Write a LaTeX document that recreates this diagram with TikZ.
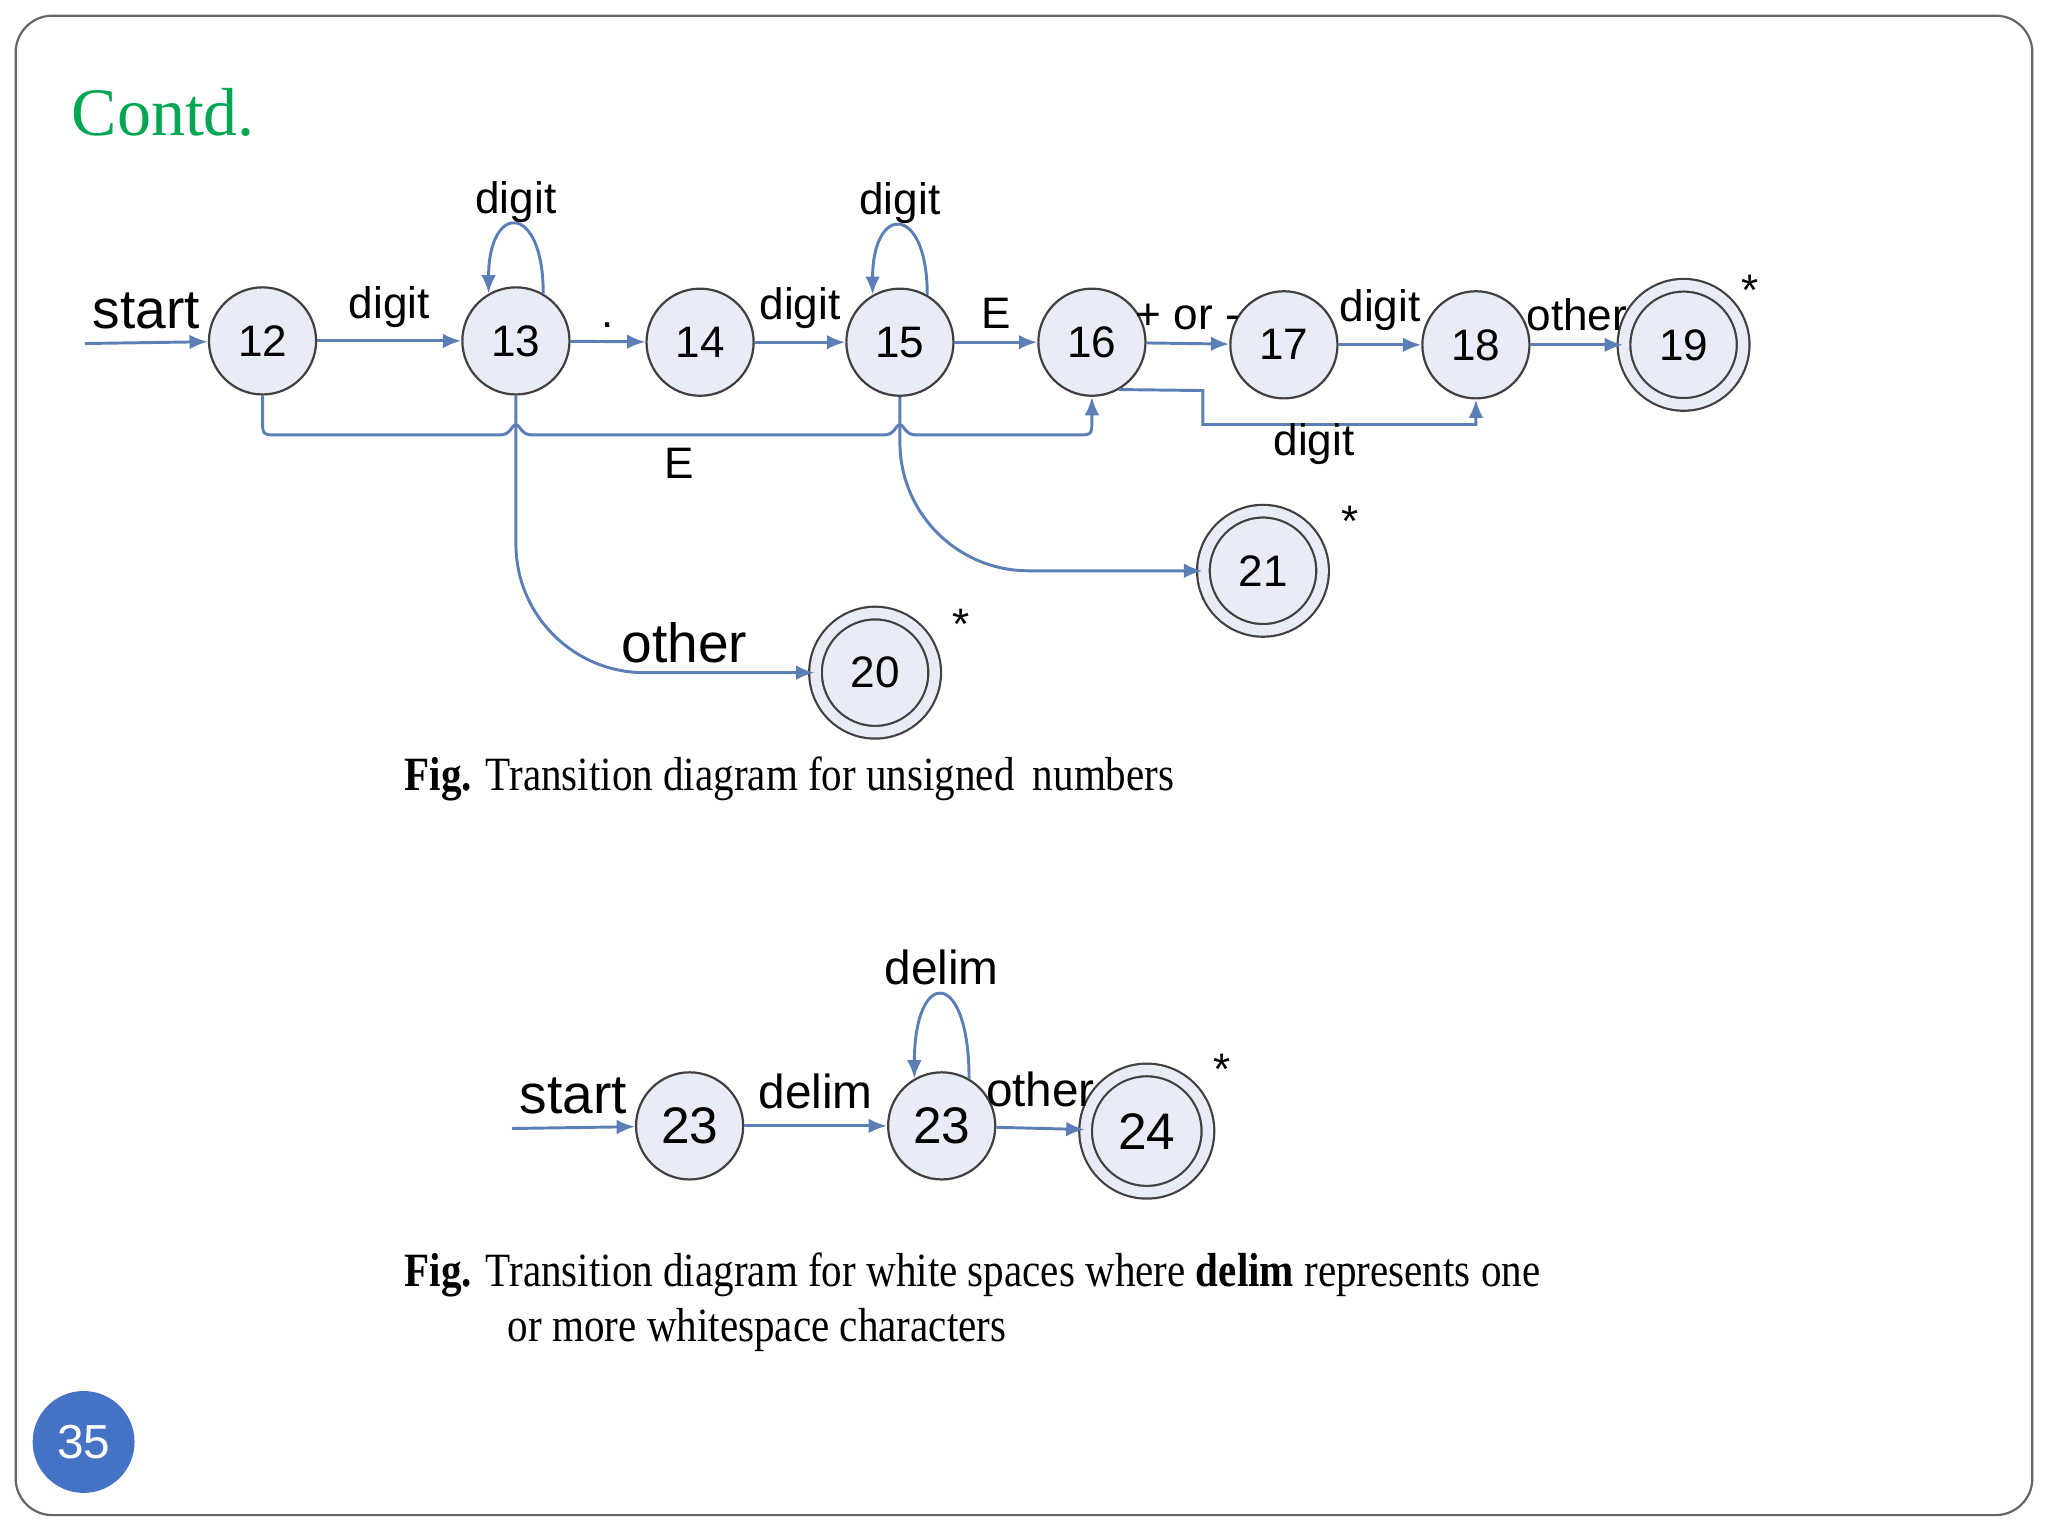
\documentclass[tikz,border=0pt]{standalone}
\usepackage{fontspec}
\setmainfont{Liberation Serif}[FakeStretch=0.86]
\newfontfamily\sans{Liberation Sans}
\newfontfamily\titlef{Liberation Serif}
\usetikzlibrary{arrows.meta}
\definecolor{edge}{HTML}{5B7FB5}
\definecolor{sfill}{HTML}{E8ECF6}
\definecolor{tgreen}{HTML}{00A651}
\definecolor{pblue}{HTML}{4472C4}
\begin{document}
\begin{tikzpicture}[x=0.0125cm,y=-0.0125cm,
  st/.style={circle,draw=black!75,fill=sfill,line width=0.6pt,minimum size=1.025cm,inner sep=0pt,font=\sans\fontsize{12}{12}\selectfont},
  ac/.style={st,minimum size=1.14cm,double=sfill,double distance=0.1cm,draw=black!75},
  ar/.style={draw=edge,line width=0.8pt,-{Latex[length=5pt,width=4pt]}},
  lb/.style={font=\sans\fontsize{12}{12}\selectfont},
  bl/.style={font=\sans\fontsize{15}{15}\selectfont},
  figcap/.style={font=\fontsize{13}{13}\selectfont,anchor=west}]
\useasboundingbox (0,0) rectangle (1568,1176);
\draw[black!60,rounded corners=10pt,line width=0.6pt] (12,12) rectangle (1556,1160);
\node[anchor=west,text=tgreen,font=\titlef\fontsize{18.5}{18.5}\selectfont] (title) at (45,86) {Contd.};
\node[circle,fill=pblue,minimum size=0.975cm,text=white,font=\sans\fontsize{13}{13}\selectfont] (pg) at (64,1104) {35};
% diagram 1
\node[st] (s12) at (201,261) {12};
\node[st] (s13) at (395,261) {13};
\node[st] (s14) at (536,262) {14};
\node[st] (s15) at (689,262) {15};
\node[st] (s16) at (836,262) {16};
\node[st] (s17) at (983,264) {17};
\node[st] (s18) at (1130,264) {18};
\node[ac] (s19) at (1289,264) {19};
\node[ac] (s21) at (967,437) {21};
\node[ac] (s20) at (670,515) {20};
\coordinate (st1) at (65,263);
\draw[ar] (st1) -- (s12) node[bl,pos=0.5,above=0pt] {start};
\draw[ar] (s12) -- node[lb,above=0pt] {digit} (s13);
\draw[ar] (s13) -- node[lb,above=0pt] {.} (s14);
\draw[ar] (s14) -- node[lb,above=0pt] {digit} (s15);
\draw[ar] (s15) -- node[lb,above=0pt] {E} (s16);
\draw[ar] (s16) -- node[lb,above=0pt] {+ or -} (s17);
\draw[ar] (s17) -- node[lb,above=0pt] {digit} (s18);
\draw[ar] (s18) -- node[lb,above=0pt] {other} (s19);
\draw[ar] (s13.60) .. controls +(0,-70) and +(0,-70) .. (s13.120) node[lb,pos=0.5,above=-3pt] {digit};
\draw[ar] (s15.60) .. controls +(0,-70) and +(0,-70) .. (s15.120) node[lb,pos=0.5,above=-3pt] {digit};
\draw[ar] (s12.south) -- (201,321) .. controls (201,333) .. (213,333) -- (383,333) .. controls (391,333) and (392,325) .. (395,325) .. controls (398,325) and (399,333) .. (407,333) -- (677,333) .. controls (685,333) and (686,325) .. (689,325) .. controls (692,325) and (693,333) .. (701,333) -- (824,333) .. controls (836,333) .. (836,321) -- (s16.south);
\node[lb] (lE) at (520,355) {E};
\draw[ar] (s16.-60) -- (921,299) -- (921,325) -- (1130,325) -- (s18.south);
\node[lb] (ld) at (1006,340) {digit};
\draw[ar,rounded corners=35pt] (s13.south) -- (395,515) -- (s20.west);
\node[bl] (lo) at (524,492) {other};
\draw[ar,rounded corners=35pt] (s15.south) -- (689,437) -- (s21.west);
\node[lb] (a19) at (1340,222) {*};
\node[lb] (a21) at (1034,399) {*};
\node[lb] (a20) at (736,478) {*};
\node[figcap] (c1) at (300,596) {\textbf{Fig.} Transition diagram for unsigned\, numbers};
% diagram 2
\node[st,font=\sans\fontsize{14}{14}\selectfont] (t23) at (528,862) {23};
\node[st,font=\sans\fontsize{14}{14}\selectfont] (u23) at (721,862) {23};
\node[ac,minimum size=1.17cm,font=\sans\fontsize{14}{14}\selectfont] (t24) at (878,866) {24};
\coordinate (st2) at (392,864);
\draw[ar] (st2) -- (t23) node[bl,pos=0.5,above=0pt] {start};
\draw[ar] (t23) -- node[lb,above=1pt,font=\sans\fontsize{13}{13}\selectfont] {delim} (u23);
\draw[ar] (u23) -- node[lb,above=2pt,font=\sans\fontsize{13}{13}\selectfont] {other} (t24);
\draw[ar] (u23.60) .. controls +(0,-85) and +(0,-85) .. (u23.120) node[lb,pos=0.5,above=-1pt,font=\sans\fontsize{13}{13}\selectfont] {delim};
\node[lb] (a24) at (936,819) {*};
\node[figcap] (c2) at (300,976) {\textbf{Fig.} Transition diagram for white spaces where \textbf{delim} represents one};
\node[figcap] (c3) at (379,1018) {or more whitespace characters};
\end{tikzpicture}
\end{document}
